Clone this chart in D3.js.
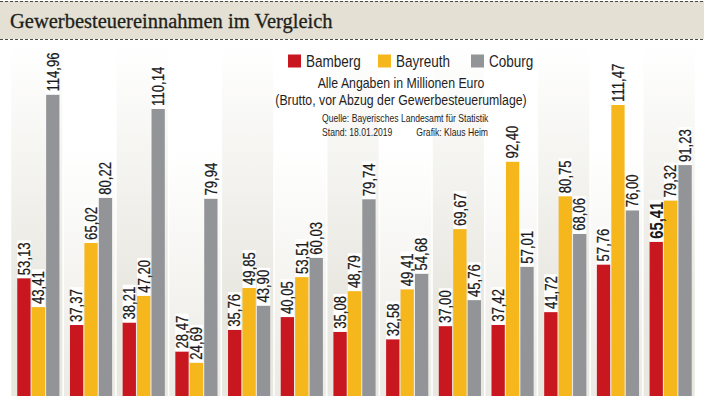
<!DOCTYPE html>
<html>
<head>
<meta charset="utf-8">
<script src="https://cdn.jsdelivr.net/npm/d3@7"></script>
<style>
  html, body { margin: 0; padding: 0; background: #fff; }
  svg { display: block; }
</style>
</head>
<body>
<div id="chart"></div>
<script>
// groups (the year labels are cut off in the original, so they are not drawn)
const years = ["2006", "2007", "2008", "2009", "2010", "2011", "2012", "2013", "2014", "2015", "2016", "2017", "2018"];
const cities = ["Bamberg", "Bayreuth", "Coburg"];
const cityColors = ["#c8171f", "#f5b71b", "#929497"];

// Mio. Euro
const bamberg  = [53.13, 37.37, 38.21, 28.47, 35.76, 40.05, 35.08, 32.58, 37.00, 37.42, 41.72, 57.76, 65.41];
const bayreuth = [43.41, 65.02, 47.20, 24.69, 49.85, 53.51, 48.79, 49.41, 69.67, 92.40, 80.75, 111.47, 79.32];
const coburg   = [114.96, 80.22, 110.14, 79.94, 43.90, 60.03, 79.74, 54.68, 45.76, 57.01, 68.06, 76.00, 91.23];

const titleText = "Gewerbesteuereinnahmen im Vergleich";
const noteLines = ["Alle Angaben in Millionen Euro", "(Brutto, vor Abzug der Gewerbesteuerumlage)"];
const sourceLine = "Quelle: Bayerisches Landesamt für Statistik";
const standText = "Stand: 18.01.2019";
const grafikText = "Grafik: Klaus Heim";

const width = 704, height = 396;
const NARROW = 0.82;   // Liberation Sans squeezed to look like a narrow face
const sans = "'Liberation Sans', Arial, sans-serif";

const de = d3.formatLocale({ decimal: ",", thousands: ".", grouping: [3], currency: ["", " €"] });
const fmt = de.format(".2f");

const series = [bamberg, bayreuth, coburg];
const rows = years.map((yr, i) => ({ year: yr, i, values: cities.map((c, k) => ({ city: c, k, value: series[k][i] })) }));

const svg = d3.select("#chart").append("svg")
    .attr("width", width)
    .attr("height", height);

// scales
const x = d3.scaleBand().domain(years).range([12, 697]).paddingInner(0.2).paddingOuter(0.1);
const xi = d3.scaleBand().domain(cities).range([0, x.bandwidth()]).paddingInner(0.08);
const y = d3.scaleLinear().domain([0, 120]).range([436, 79.6]);

// =============================
// panel gradients
// =============================
const defs = svg.append("defs");
const gA = defs.append("linearGradient").attr("id", "panelA")
    .attr("gradientUnits", "userSpaceOnUse").attr("x1", 0).attr("x2", 0).attr("y1", 45).attr("y2", 300);
gA.append("stop").attr("offset", 0).attr("stop-color", "#ffffff");
gA.append("stop").attr("offset", 1).attr("stop-color", "#e8e7e0");
const gB = defs.append("linearGradient").attr("id", "panelB")
    .attr("gradientUnits", "userSpaceOnUse").attr("x1", 0).attr("x2", 0).attr("y1", 150).attr("y2", 396);
gB.append("stop").attr("offset", 0).attr("stop-color", "#ffffff");
gB.append("stop").attr("offset", 1).attr("stop-color", "#ebeae4");

svg.append("g").selectAll("rect")
    .data(rows)
    .join("rect")
    .attr("x", d => x(d.year) - 6)
    .attr("y", 41)
    .attr("width", x.bandwidth() + 9)
    .attr("height", height - 41)
    .attr("fill", d => d.i % 2 === 0 ? "url(#panelA)" : "url(#panelB)");

// =============================
// title band
// =============================
svg.append("rect").attr("x", 0).attr("y", 1).attr("width", width).attr("height", 38).attr("fill", "#e4e1d4");
[1.5, 39.5].forEach(yy => {
    svg.append("line")
        .attr("x1", 0).attr("x2", width).attr("y1", yy).attr("y2", yy)
        .attr("stroke", "#4a4a46").attr("stroke-width", 1).attr("stroke-dasharray", "3,2");
});
svg.append("text")
    .attr("x", 10).attr("y", 28)
    .attr("font-family", "'Liberation Serif', 'Times New Roman', serif")
    .attr("font-size", 20.5)
    .attr("fill", "#1f1f1a")
    .attr("stroke", "#1f1f1a")
    .attr("stroke-width", 0.3)
    .text(titleText);

// narrow text helper
function narrowText(parent, tx, ty, str, size, anchor, weight) {
    return parent.append("text")
        .attr("transform", `translate(${tx},${ty}) scale(${NARROW},1)`)
        .attr("font-family", sans)
        .attr("font-size", size)
        .attr("font-weight", weight || "normal")
        .attr("text-anchor", anchor || "start")
        .attr("fill", "#1e1e1e")
        .text(str);
}

// =============================
// bars + labels
// =============================
const group = svg.append("g").selectAll("g")
    .data(rows)
    .join("g")
    .attr("transform", d => `translate(${x(d.year)},0)`);

group.selectAll("rect")
    .data(d => d.values)
    .join("rect")
    .attr("x", d => xi(d.city))
    .attr("y", d => y(d.value))
    .attr("width", xi.bandwidth())
    .attr("height", d => y(0) - y(d.value))
    .attr("fill", d => cityColors[d.k]);

const lastYear = years[years.length - 1];

group.each(function (row) {
    const g = d3.select(this);
    row.values.forEach(v => {
        const big = row.year === lastYear && v.k === 0;
        const size = big ? 18 : 16;
        const cx = xi(v.city) + xi.bandwidth() / 2;
        const top = y(v.value) - 3;
        const bg = g.append("rect").attr("fill", "#ffffff");
        const t = g.append("text")
            .attr("transform", `translate(${cx},${top}) rotate(-90) scale(${NARROW},1)`)
            .attr("dy", "0.36em")
            .attr("font-family", sans)
            .attr("font-size", size)
            .attr("font-weight", big ? "bold" : "normal")
            .attr("fill", "#1a1a1a")
            .attr("stroke", "#1a1a1a")
            .attr("stroke-width", big ? 0 : 0.25)
            .text(fmt(v.value));
        const len = t.node().getComputedTextLength() * NARROW;
        bg.attr("x", xi(v.city))
          .attr("width", xi.bandwidth())
          .attr("y", top - len - 2)
          .attr("height", len + 5);
    });
});

// =============================
// legend + notes
// =============================
const legendX = [288, 378, 471];
const legend = svg.append("g");
cities.forEach((c, k) => {
    legend.append("rect")
        .attr("x", legendX[k]).attr("y", 54.5)
        .attr("width", 13).attr("height", 13)
        .attr("fill", cityColors[k]);
    narrowText(legend, legendX[k] + 18, 67, c, 16.5);
});

noteLines.forEach((line, i) => {
    narrowText(svg, 401, 88 + i * 17, line, 15, "middle");
});

narrowText(svg, 322, 122, sourceLine, 10.5);
narrowText(svg, 322, 136, standText, 10.5);
narrowText(svg, 488, 136, grafikText, 10.5, "end");
</script>
</body>
</html>
